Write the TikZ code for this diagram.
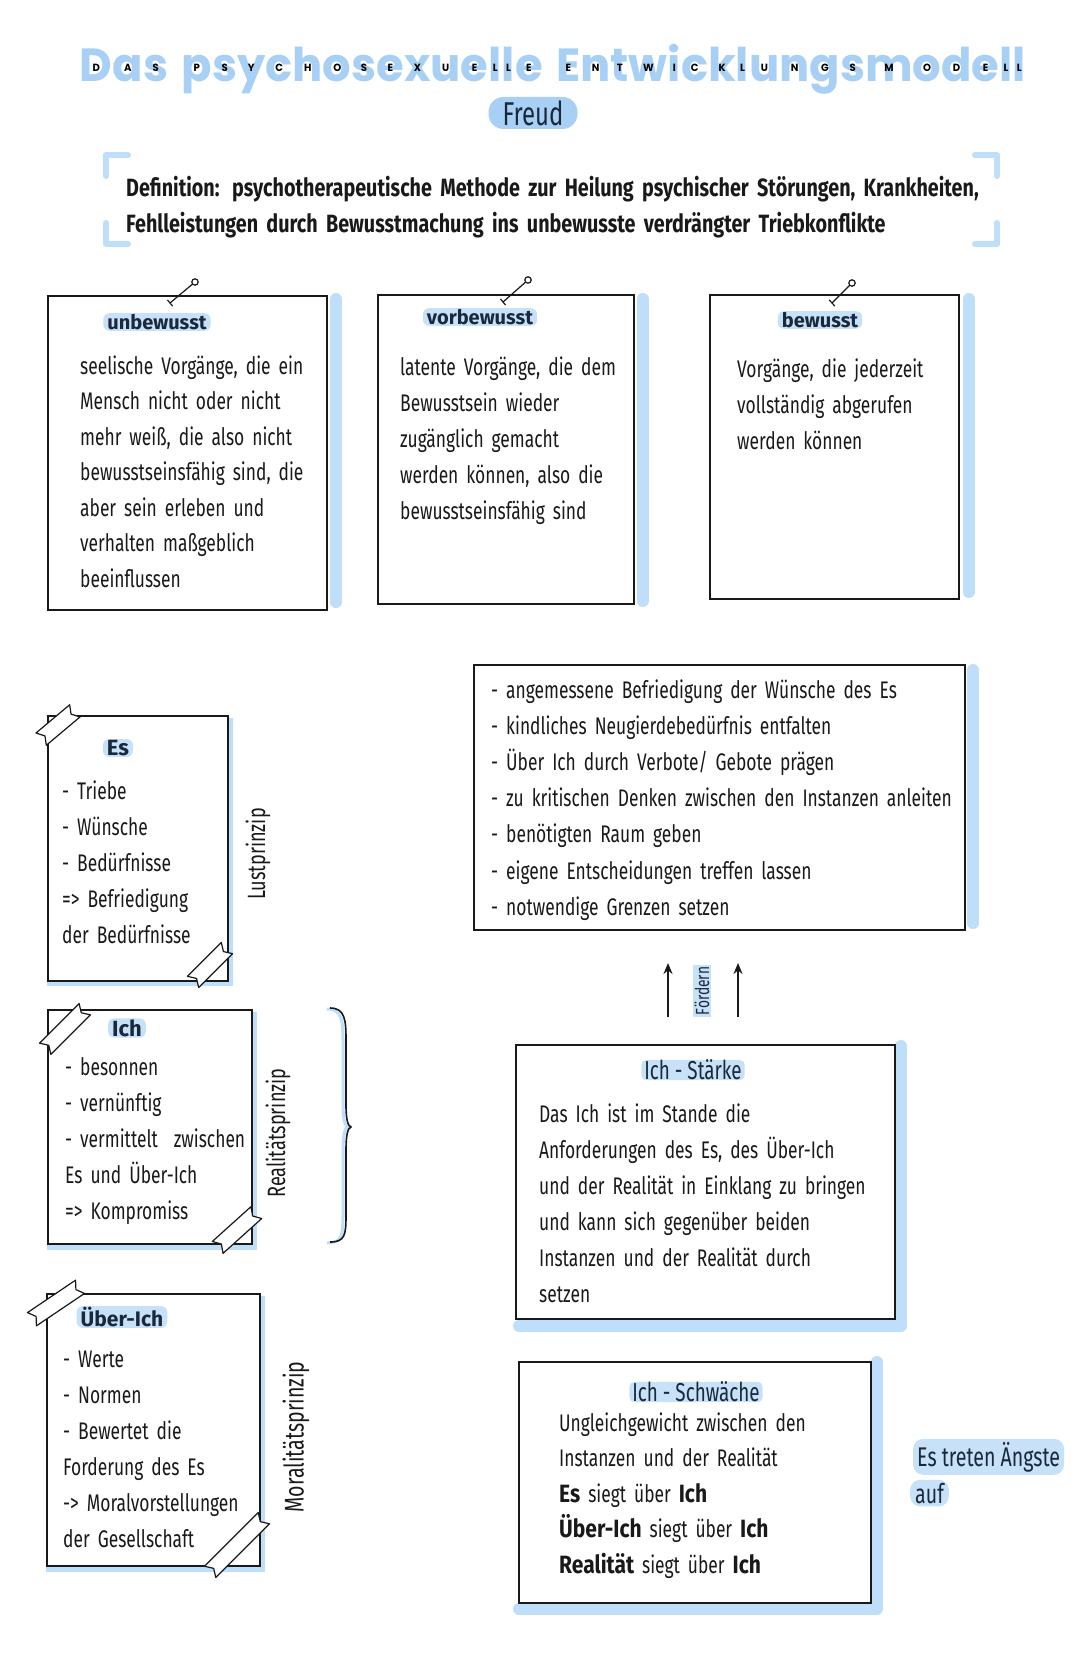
\documentclass[tikz,border=0pt]{standalone}
\usepackage{fontspec}
\usepackage{graphicx}
\usetikzlibrary{arrows.meta}
\newfontfamily\bodyf{Fira Sans}[FakeStretch=0.725]
\newfontfamily\headf{Fira Sans}
\newfontfamily\boldwf{Fira Sans}[FakeStretch=0.84]
\newfontfamily\deff{Fira Sans}[FakeStretch=0.79]
\newfontfamily\titlef{Poppins}
\definecolor{tblue}{RGB}{168,208,245}
\definecolor{bblue}{RGB}{190,222,250}
\definecolor{hblue}{RGB}{198,225,248}
\definecolor{ink}{RGB}{25,25,25}
\definecolor{navy}{RGB}{25,40,58}
\newcommand\bfz[2]{\bodyf\fontsize{#1}{#2}\selectfont}
\newcommand\Bw[1]{{\boldwf\bfseries\fontsize{25}{25}\selectfont #1}}
\newcommand\tl[2]{\setbox0\hbox{#1}\dimen0=\wd0\rlap{\textcolor{tblue}{\copy0}}\makebox[\dimen0]{\raisebox{0.2em}{\fontsize{9}{9}\selectfont\color{black}#2}}}
\newcommand\tsp{\hspace{0.3em}}
\newcommand\tape[4]{%
\begin{scope}[shift={(#1,#2)}, rotate=#3]
\filldraw[fill=white, draw=ink, line width=1.2pt, line join=round] (-#4,-8) -- (#4,-8) -- (#4-5,0) -- (#4,8) -- (-#4,8) -- (-#4+5,0) -- cycle;
\end{scope}}
\begin{document}
\begin{tikzpicture}[x=1pt,y=-1pt,
  box/.style={draw=ink, line width=1.8pt, fill=white, rectangle, inner sep=0pt, anchor=north west},
  bar/.style={draw=bblue, line width=12pt, line cap=round, line join=round},
  bracketline/.style={draw=bblue, line width=6pt, line cap=round, line join=round},
  shadowfill/.style={fill=bblue},
  body/.style={anchor=base west, align=left, text width=#1, inner sep=0pt, text=ink},
  hd/.style={fill=hblue, rounded corners=6pt, inner xsep=4pt, inner ysep=1pt, text=navy, font=\headf\bfseries\fontsize{20}{20}\selectfont},
  hdr/.style={fill=hblue, rounded corners=5pt, inner xsep=3pt, inner ysep=0pt, text=navy, font=\bfz{26}{26}},
  pinline/.style={draw=ink, line width=1.2pt},
  sidelabel/.style={rotate=90, inner sep=0pt, text=ink},
  arrowline/.style={draw=ink, line width=1.8pt, -{Stealth[length=11pt,width=9pt]}}
]
\useasboundingbox (0,0) rectangle (1080,1669);
\fill[white] (0,0) rectangle (1080,1669);

% title
\node[inner sep=0pt] (title) at (553,69) {\resizebox*{946pt}{50pt}{\titlef\bfseries\fontsize{40}{40}\selectfont%
\tl{D}{D}\tl{a}{A}\tl{s}{S}\tsp%
\tl{p}{P}\tl{s}{S}\tl{y}{Y}\tl{c}{C}\tl{h}{H}\tl{o}{O}\tl{s}{S}\tl{e}{E}\tl{x}{X}\tl{u}{U}\tl{e}{E}\tl{l}{L}\tl{l}{L}\tl{e}{E}\tsp%
\tl{E}{E}\tl{n}{N}\tl{t}{T}\tl{w}{W}\tl{i}{I}\tl{c}{C}\tl{k}{K}\tl{l}{L}\tl{u}{U}\tl{n}{N}\tl{g}{G}\tl{s}{S}\tl{m}{M}\tl{o}{O}\tl{d}{D}\tl{e}{E}\tl{l}{L}\tl{l}{L}}};
\node[fill=tblue, rounded corners=15pt, minimum width=89pt, minimum height=32pt, inner sep=0pt, text=navy, font=\bfz{33}{33}] (freud) at (533,113) {Freud};

% definition
\draw[bracketline] (128,155) -- (106,155) -- (106,176);
\draw[bracketline] (106,223) -- (106,244) -- (128,244);
\draw[bracketline] (975,155) -- (997,155) -- (997,176);
\draw[bracketline] (997,223) -- (997,244) -- (975,244);
\node[body=900pt, font=\deff\bfseries\fontsize{25}{36}\selectfont] (def) at (126,197) {Definition: psychotherapeutische Methode zur Heilung psychischer Störungen, Krankheiten,\\Fehlleistungen durch Bewusstmachung ins unbewusste verdrängter Triebkonflikte};

% top boxes
\draw[bar] (336,299) -- (336,602);
\draw[bar] (642.5,299) -- (642.5,601);
\draw[bar] (968.5,299) -- (968.5,592);
\node[box, minimum width=279pt, minimum height=314pt] (ub) at (47,295) {};
\node[box, minimum width=256pt, minimum height=309pt] (vb) at (377,294) {};
\node[box, minimum width=249pt, minimum height=304pt] (bw) at (709,294) {};
\draw[pinline] (170,303) -- (192.5,284.1); \draw[pinline] (195,282) circle (3.2);
\draw[pinline] (167.4,299.9) -- (172.6,306.1);
\draw[pinline] (503,302) -- (525.6,282.1); \draw[pinline] (528,280) circle (3.2);
\draw[pinline] (500.4,298.9) -- (505.6,305.1);
\draw[pinline] (832,303) -- (849.7,285.3); \draw[pinline] (852,283) circle (3.2);
\draw[pinline] (829.2,299.9) -- (834.8,306.1);
\node[hd] (ubh) at (157,322) {unbewusst};
\node[hd] (vbh) at (480,317) {vorbewusst};
\node[hd] (bwh) at (820,320) {bewusst};
\node[body=270pt, font=\bfz{24}{35.5}] (ubt) at (80,374) {seelische Vorgänge, die ein\\Mensch nicht oder nicht\\mehr weiß, die also nicht\\bewusstseinsfähig sind, die\\aber sein erleben und\\verhalten maßgeblich\\beeinflussen};
\node[body=250pt, font=\bfz{24}{36}] (vbt) at (400,375) {latente Vorgänge, die dem\\Bewusstsein wieder\\zugänglich gemacht\\werden können, also die\\bewusstseinsfähig sind};
\node[body=240pt, font=\bfz{24}{36}] (bwt) at (737,377) {Vorgänge, die jederzeit\\vollständig abgerufen\\werden können};

% Es / Ich / Ueber-Ich
\fill[shadowfill] (47,718) rectangle (233,986);
\node[box, minimum width=180pt, minimum height=265pt] (es) at (47,715) {};
\fill[shadowfill] (47,1012) rectangle (257,1250);
\node[box, minimum width=204pt, minimum height=234pt] (ich) at (47,1009) {};
\fill[shadowfill] (46,1296) rectangle (265,1572);
\node[box, minimum width=213pt, minimum height=272pt] (ueber) at (46,1293) {};
\tape{58}{725}{40}{22}
\tape{210}{965}{45}{24}
\tape{65}{1029}{45}{28}
\tape{237}{1230}{42}{26}
\tape{56}{1303}{34}{29}
\tape{237}{1545}{45}{38}
\node[hd, font=\headf\bfseries\fontsize{22}{22}\selectfont] (esh) at (118,748) {Es};
\node[hd, font=\headf\bfseries\fontsize{22}{22}\selectfont] (ichh) at (127,1028) {Ich};
\node[hd, font=\headf\bfseries\fontsize{21}{21}\selectfont] (ueberh) at (122,1317) {Über-Ich};
\node[body=180pt, font=\bfz{24}{36.2}] (est) at (62,799) {- Triebe\\- Wünsche\\- Bedürfnisse\\=> Befriedigung\\der Bedürfnisse};
\node[body=200pt, font=\bfz{24}{36.2}] (icht) at (65,1075) {- besonnen\\- vernünftig\\- vermittelt\ \ zwischen\\Es und Über-Ich\\=> Kompromiss};
\node[body=210pt, font=\bfz{24}{36}] (uebert) at (63,1367) {- Werte\\- Normen\\- Bewertet die\\Forderung des Es\\-> Moralvorstellungen\\der Gesellschaft};
\node[sidelabel, font=\bfz{25}{25}] (lust) at (258,854) {Lustprinzip};
\node[sidelabel, font=\bfz{25}{25}] (real) at (278,1133) {Realitätsprinzip};
\node[sidelabel, font=\bfz{27}{27}] (moral) at (296,1437) {Moralitätsprinzip};
% brace
\draw[draw=bblue, line width=3pt] (327,1009) .. controls (342,1009) and (343,1021) .. (343,1040) -- (343,1105) .. controls (343,1120) and (345,1126) .. (348,1127) .. controls (345,1128) and (343,1134) .. (343,1150) -- (343,1215) .. controls (343,1235) and (342,1243) .. (327,1243);
\draw[draw=ink, line width=1.6pt] (330,1008) .. controls (345,1008) and (346,1020) .. (346,1040) -- (346,1105) .. controls (346,1120) and (348,1126) .. (351,1127) .. controls (348,1128) and (346,1134) .. (346,1150) -- (346,1215) .. controls (346,1235) and (345,1242) .. (330,1242);

% Foerdern list
\draw[bar] (973,670) -- (973,923);
\node[box, minimum width=491pt, minimum height=265pt] (liste) at (473,664) {};
\node[body=480pt, font=\bfz{24}{36.2}] (listet) at (491,698) {- angemessene Befriedigung der Wünsche des Es\\- kindliches Neugierdebedürfnis entfalten\\- Über Ich durch Verbote/ Gebote prägen\\- zu kritischen Denken zwischen den Instanzen anleiten\\- benötigten Raum geben\\- eigene Entscheidungen treffen lassen\\- notwendige Grenzen setzen};

% arrows
\coordinate (a1s) at (668,1017); \coordinate (a1e) at (668,963);
\coordinate (a2s) at (738,1017); \coordinate (a2e) at (738,963);
\draw[arrowline] (a1s) -- (a1e);
\draw[arrowline] (a2s) -- (a2e);
\node[sidelabel, fill=hblue, inner sep=1.5pt, text=navy, font=\bfz{19}{19}] (foerdern) at (702,991) {Fördern};

% Ich-Staerke
\draw[bar] (901,1046) -- (901,1326) -- (519,1326);
\node[box, minimum width=379pt, minimum height=274pt] (staerke) at (515,1044) {};
\node[hdr] (staerkeh) at (693,1070) {Ich - Stärke};
\node[body=360pt, font=\bfz{24}{36}] (staerket) at (539,1122) {Das Ich ist im Stande die\\Anforderungen des Es, des Über-Ich\\und der Realität in Einklang zu bringen\\und kann sich gegenüber beiden\\Instanzen und der Realität durch\\setzen};

% Ich-Schwaeche
\draw[bar] (876.5,1362) -- (876.5,1609) -- (519,1609);
\node[box, minimum width=352pt, minimum height=241pt] (schw) at (518,1361) {};
\node[hdr] (schwh) at (696,1392) {Ich - Schwäche};
\node[body=330pt, font=\bfz{24}{35.5}] (schwt) at (559,1431) {Ungleichgewicht zwischen den\\Instanzen und der Realität\\\Bw{Es} siegt über \Bw{Ich}\\\Bw{Über-Ich} siegt über \Bw{Ich}\\\Bw{Realität} siegt über \Bw{Ich}};

\node[anchor=base west, fill=hblue, rounded corners=10pt, inner xsep=4pt, inner ysep=3pt, text=navy, font=\bfz{27}{27}] (angst1) at (913,1466) {Es treten Ängste};
\node[anchor=base west, fill=hblue, rounded corners=10pt, inner xsep=5pt, inner ysep=3pt, text=navy, font=\bfz{27}{27}] (angst2) at (910,1503) {auf};
\end{tikzpicture}
\end{document}
